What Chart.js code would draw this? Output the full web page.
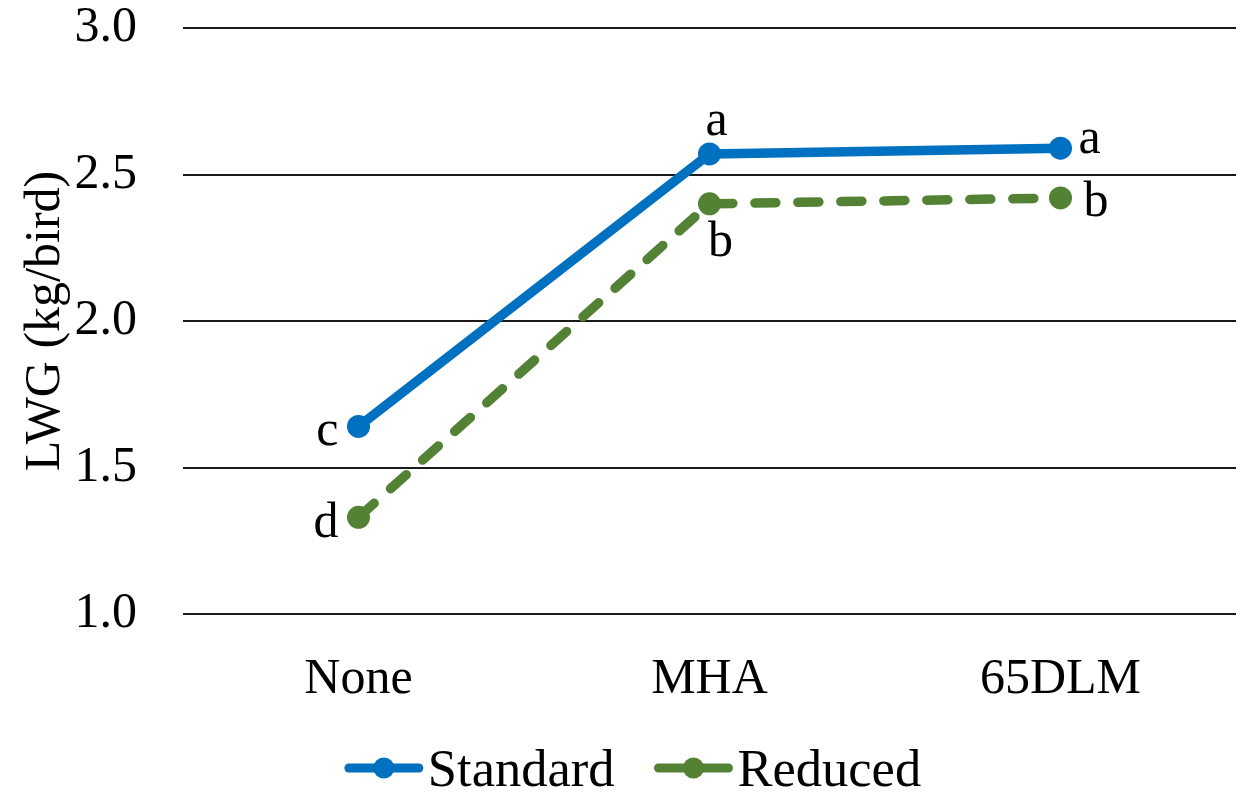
<!DOCTYPE html>
<html>
<head>
<meta charset="utf-8">
<title>LWG by methionine source</title>
<script src="https://cdn.jsdelivr.net/npm/chart.js@4"></script>
<style>
  html, body { margin: 0; padding: 0; background: #ffffff; overflow: hidden; }
  canvas { display: block; }
</style>
</head>
<body>
<canvas id="lwg" width="1241" height="795"></canvas>
<script>
// Categories and series values
const categories = ['None', 'MHA', '65DLM'];
const standardValues = [1.64, 2.57, 2.59];
const reducedValues = [1.33, 2.40, 2.42];
const seriesNames = ['Standard', 'Reduced'];
// Significance letters per point
const standardLetters = ['c', 'a', 'a'];
const reducedLetters = ['d', 'b', 'b'];
// Y axis ticks
const yTicks = [1.0, 1.5, 2.0, 2.5, 3.0];
const yTitle = 'LWG (kg/bird)';

const FONT = "'Liberation Serif', 'Times New Roman', serif";
const FSIZE = 50;
const LEGEND_FSIZE = 52.5;
const BLUE = '#0070C0';
const GREEN = '#548235';

// Where each letter sits relative to its point: [align, dx, dy(baseline)]
const letterPlacement = [
  [['right', -20, 19], ['center', 7, -19], ['left', 18, 5]],
  [['right', -20, 20], ['center', 11, 52], ['left', 23, 18]]
];
const letterSets = [standardLetters, reducedLetters];

const letterPlugin = {
  id: 'letters',
  afterDatasetsDraw(chart) {
    const ctx = chart.ctx;
    ctx.save();
    ctx.font = FSIZE + 'px ' + FONT;
    ctx.fillStyle = '#000';
    ctx.textBaseline = 'alphabetic';
    chart.data.datasets.forEach((ds, di) => {
      const meta = chart.getDatasetMeta(di);
      meta.data.forEach((pt, i) => {
        const [align, dx, dy] = letterPlacement[di][i];
        ctx.textAlign = align;
        ctx.fillText(letterSets[di][i], pt.x + dx, pt.y + dy);
      });
    });
    ctx.restore();
  }
};

// Bottom legend: line-with-marker symbol followed by the series name
const legendPlugin = {
  id: 'lineLegend',
  afterDraw(chart) {
    const ctx = chart.ctx;
    ctx.save();
    ctx.font = LEGEND_FSIZE + 'px ' + FONT;
    const symW = 78, gap = 5, spacing = 40;
    const items = chart.data.datasets.map(ds => ({
      label: ds.label, color: ds.borderColor, w: ctx.measureText(ds.label).width
    }));
    let total = 0;
    items.forEach((it, i) => { total += symW + gap + it.w + (i ? spacing : 0); });
    let x = 633 - total / 2;
    const y = 768;
    items.forEach((it, i) => {
      if (i) x += spacing;
      ctx.strokeStyle = it.color;
      ctx.lineWidth = 9;
      ctx.lineCap = 'round';
      ctx.beginPath();
      ctx.moveTo(x + 4, y);
      ctx.lineTo(x + symW - 4, y);
      ctx.stroke();
      ctx.fillStyle = it.color;
      ctx.beginPath();
      ctx.arc(x + symW / 2, y, 10.5, 0, Math.PI * 2);
      ctx.fill();
      ctx.fillStyle = '#000';
      ctx.textAlign = 'left';
      ctx.textBaseline = 'alphabetic';
      ctx.fillText(it.label, x + symW + gap, 786);
      x += symW + gap + it.w;
    });
    ctx.restore();
  }
};

function clearScalePadding(scale) {
  scale.paddingLeft = 0;
  scale.paddingRight = 0;
  scale.paddingTop = 0;
  scale.paddingBottom = 0;
}

new Chart(document.getElementById('lwg'), {
  type: 'line',
  data: {
    labels: categories,
    datasets: [
      {
        label: seriesNames[0],
        data: standardValues,
        borderColor: BLUE,
        backgroundColor: BLUE,
        borderWidth: 9.5,
        borderCapStyle: 'round',
        borderJoinStyle: 'round',
        pointRadius: 11.5,
        pointBorderWidth: 0,
        pointBackgroundColor: BLUE,
        tension: 0
      },
      {
        label: seriesNames[1],
        data: reducedValues,
        borderColor: GREEN,
        backgroundColor: GREEN,
        borderWidth: 9.5,
        borderDash: [21, 22],
        borderCapStyle: 'round',
        borderJoinStyle: 'round',
        pointRadius: 11.5,
        pointBorderWidth: 0,
        pointBackgroundColor: GREEN,
        tension: 0
      }
    ]
  },
  options: {
    responsive: false,
    animation: false,
    events: [],
    layout: { autoPadding: false, padding: { top: 28, right: 5, bottom: 0, left: 0 } },
    plugins: {
      legend: { display: false },
      tooltip: { enabled: false }
    },
    scales: {
      x: {
        type: 'category',
        offset: true,
        grid: { display: false, drawTicks: false },
        border: { display: false },
        ticks: {
          color: '#000',
          font: { family: FONT, size: FSIZE },
          padding: 36,
          maxRotation: 0
        },
        afterFit(scale) {
          scale.height = 181;
          clearScalePadding(scale);
        }
      },
      y: {
        min: 1,
        max: 3,
        afterBuildTicks(scale) { scale.ticks = yTicks.map(v => ({ value: v })); },
        grid: { color: '#1a1a1a', lineWidth: 2, drawTicks: false },
        border: { display: false },
        ticks: {
          color: '#000',
          font: { family: FONT, size: FSIZE },
          padding: 46,
          callback: v => Number(v).toFixed(1)
        },
        title: {
          display: true,
          text: yTitle,
          color: '#000',
          font: { family: FONT, size: FSIZE },
          padding: { top: 16, bottom: 0 }
        },
        afterFit(scale) {
          scale.width = 183;
          clearScalePadding(scale);
        }
      }
    }
  },
  plugins: [letterPlugin, legendPlugin]
});
</script>
</body>
</html>
